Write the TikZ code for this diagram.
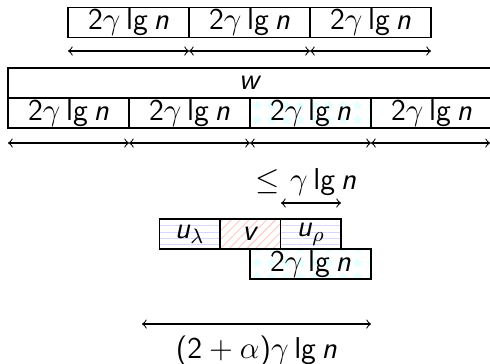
\documentclass[tikz,border=0pt]{standalone}
\usetikzlibrary{patterns.meta}
\newcommand{\gl}{2$\gamma$\hspace{0.19em}lg\hspace{0.19em}\textit{n}}
\begin{document}
\begin{tikzpicture}[x=0.3846pt,y=-0.3846pt,
  font=\sffamily\fontsize{11.6}{14}\selectfont,
  cell/.style={draw,inner sep=0pt,outer sep=0pt,minimum height=11.54pt,minimum width=46.54pt},
  half/.style={cell,minimum width=23.27pt},
  hl/.style={pattern={Lines[angle=0,distance=2.4pt,line width=0.35pt]},pattern color=blue!16},
  ne/.style={pattern={Lines[angle=45,distance=2.4pt,line width=0.35pt]},pattern color=red!22},
  st/.style={pattern={Stars[distance=5.5pt,radius=2.2pt,points=5]},pattern color=cyan!9},
  dim/.style={<->,line width=0.4pt}]
\useasboundingbox (0,0) rectangle (490,363);
% top row
\node[cell] (t1) at (128.5,22.5) {\gl};
\node[cell] (t2) at (249.5,22.5) {\gl};
\node[cell] (t3) at (370.5,22.5) {\gl};
\coordinate (a0) at (68,51);
\coordinate (a1) at (189,51);
\coordinate (a2) at (310,51);
\coordinate (a3) at (431,51);
\draw[dim] (a0) -- (a1);
\draw[dim] (a1) -- (a2);
\draw[dim] (a2) -- (a3);
% w row
\node[cell,minimum width=186.15pt] (w) at (250,83) {\textit{w}};
\node[cell] (r1) at (68.5,113) {\gl};
\node[cell] (r2) at (189.5,113) {\gl};
\node[cell,st] (r3) at (310.5,113) {\gl};
\node[cell] (r4) at (431.5,113) {\gl};
\coordinate (b0) at (8,143);
\coordinate (b1) at (129,143);
\coordinate (b2) at (250,143);
\coordinate (b3) at (371,143);
\coordinate (b4) at (490,143);
\draw[dim] (b0) -- (b1);
\draw[dim] (b1) -- (b2);
\draw[dim] (b2) -- (b3);
\draw[dim] (b3) -- (b4);
% u v u
\node (le) at (306,182) {$\leq$\hspace{0.33em}$\gamma$\hspace{0.19em}lg\hspace{0.19em}\textit{n}};
\coordinate (c0) at (281,203);
\coordinate (c1) at (341,203);
\draw[dim] (c0) -- (c1);
\node[half,hl] (ul) at (189.75,234) {\textit{u}$_\lambda$};
\node[half,ne] (v) at (250.25,234) {\textit{v}};
\node[half,hl] (ur) at (310.75,234) {\textit{u}$_\rho$};
\node[cell,st] (bb) at (310.5,264) {\gl};
% bottom
\coordinate (d0) at (142,324);
\coordinate (d1) at (371,324);
\draw[dim] (d0) -- node[below=1pt] (tot) {(2${}+\alpha$)$\gamma$\hspace{0.19em}lg\hspace{0.19em}\textit{n}} (d1);
\end{tikzpicture}
\end{document}
